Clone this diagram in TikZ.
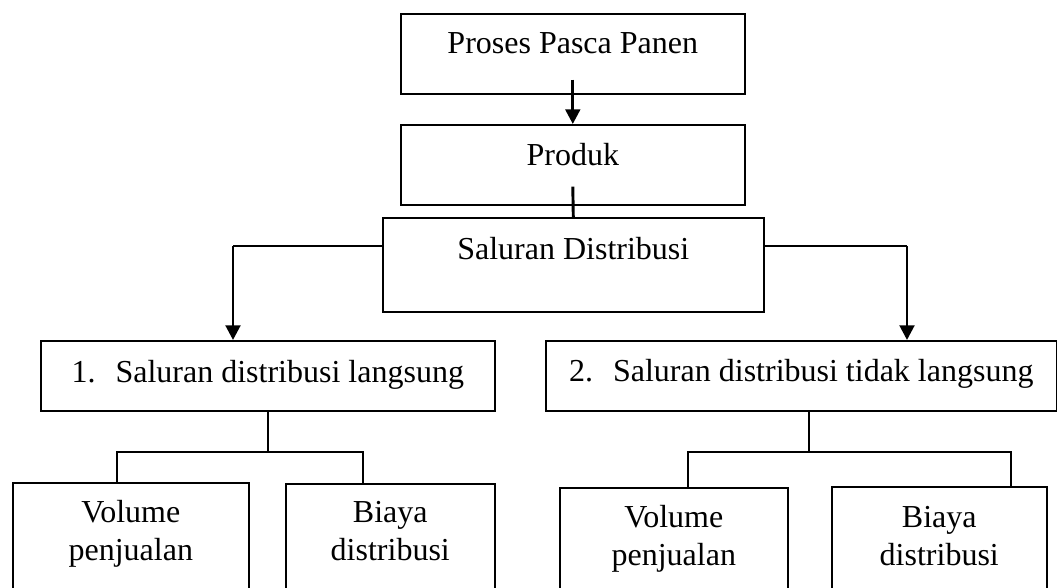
\documentclass[tikz,border=0pt]{standalone}
\usepackage{fontspec}
\setmainfont{Liberation Serif}
\usetikzlibrary{arrows.meta}

\begin{document}
\begin{tikzpicture}[x=0.75pt,y=-0.75pt,
        box/.style={draw,line width=1.2pt,inner sep=0pt,anchor=north west,
            font=\fontsize{24}{28.5}\selectfont},
        arr/.style={line width=2.2pt,-{Triangle[width=11pt,length=11pt]}},
        stem/.style={line width=2.2pt},
        link/.style={line width=1.3pt},
        tree/.style={line width=1.1pt}]
        \useasboundingbox (0,0) rectangle (1057,588);
        \clip (0,0) rectangle (1057,588);
        %% Boxes
        \node[box,minimum width=258pt,text height=30pt,text depth=30pt]
            (panen) at (400,13) {Proses Pasca Panen};
        \node[box,minimum width=258pt,text height=30.75pt,text depth=29.25pt]
            (produk) at (400,124) {Produk};
        \node[box,minimum width=285.75pt,text height=31.5pt,text depth=39pt]
            (saluran) at (382,217) {Saluran Distribusi};
        \node[box,minimum width=340.5pt,text height=31.5pt,text depth=21pt]
            (langsung) at (40,340) {1.\hspace{15pt}Saluran distribusi langsung};
        \node[box,minimum width=383.25pt,text height=30.75pt,text depth=21.75pt]
            (tidak) at (545,340) {2.\hspace{15pt}Saluran distribusi tidak langsung};
        \node[box,align=center,minimum width=177pt,text height=58.5pt,text depth=80pt]
            (volumeA) at (12,482) {Volume\\penjualan};
        \node[box,align=center,minimum width=156.75pt,text height=57.75pt,text depth=80pt]
            (biayaA) at (285,483) {Biaya\\distribusi};
        \node[box,align=center,minimum width=171pt,text height=58.5pt,text depth=80pt]
            (volumeB) at (559,487) {Volume\\penjualan};
        \node[box,align=center,minimum width=161.25pt,text height=59.25pt,text depth=80pt]
            (biayaB) at (831,486) {Biaya\\distribusi};
        %% Arrows
        \draw[arr] ([yshift=11.25pt]panen.south) -- (produk.north);
        \draw[stem] ([yshift=14.25pt]produk.south) -- (saluran.north);
        \coordinate (kiri) at (233,246);
        \coordinate (kanan) at (907,246);
        \draw[link] (saluran.west |- kiri) -- (kiri);
            \draw[arr] (kiri) -- (kiri |- langsung.north);
        \draw[link] (saluran.east |- kanan) -- (kanan);
            \draw[arr] (kanan) -- (kanan |- tidak.north);
        %% Branches
        \coordinate (kiriA) at (117,452);
        \coordinate (kiriB) at (363,452);
        \draw[tree] (langsung.south) -- (langsung.south |- kiriA);
        \draw[tree] (volumeA.north -| kiriA) -- (kiriA) -- (kiriB) -- (biayaA.north -| kiriB);
        \coordinate (kananO) at (809,452);
        \coordinate (kananA) at (688,452);
        \coordinate (kananB) at (1011,452);
        \draw[tree] (tidak.south -| kananO) -- (kananO);
        \draw[tree] (volumeB.north -| kananA) -- (kananA) -- (kananB) -- (biayaB.north -| kananB);
\end{tikzpicture}
\end{document}
